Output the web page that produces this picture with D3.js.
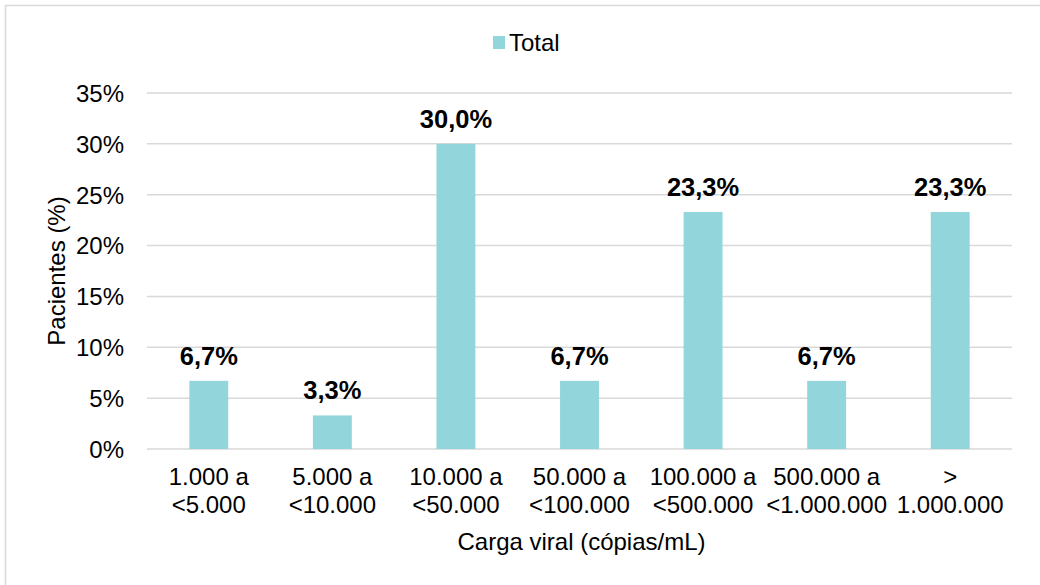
<!DOCTYPE html>
<html>
<head>
<meta charset="utf-8">
<script src="https://cdn.jsdelivr.net/npm/d3@7/dist/d3.min.js"></script>
<style>
  html, body { margin: 0; padding: 0; background: #fff; }
  svg { display: block; font-family: "Liberation Sans", Arial, sans-serif; }
</style>
</head>
<body>
<svg id="chart" width="1040" height="585"></svg>
<script>
// Viral load ranges (two-line labels) and share of patients in each
const categories = [
  ["1.000 a", "<5.000"],
  ["5.000 a", "<10.000"],
  ["10.000 a", "<50.000"],
  ["50.000 a", "<100.000"],
  ["100.000 a", "<500.000"],
  ["500.000 a", "<1.000.000"],
  [">", "1.000.000"]
];
const totalValues = [6.7, 3.3, 30.0, 6.7, 23.3, 6.7, 23.3];
const yTicks = [0, 5, 10, 15, 20, 25, 30, 35];
const seriesName = "Total";

const svg = d3.select("#chart");
const W = 1040, H = 585;
const plot = { left: 147, right: 1012, top: 93, bottom: 449 };
const barColor = "#92d6dc";
const gridColor = "#d9d9d9";
const fontSize = 24;
const labelSize = 25.5;

// Frame around the chart
svg.append("rect")
  .attr("x", 5.5).attr("y", 5.5)
  .attr("width", W + 10).attr("height", H + 10)
  .attr("fill", "#fff").attr("stroke", gridColor).attr("stroke-width", 1.5);

const x = d3.scaleBand()
  .domain(categories.map((d, i) => i))
  .range([plot.left, plot.right])
  .paddingInner(0.685).paddingOuter(0.3425);

const y = d3.scaleLinear().domain([0, 35]).range([plot.bottom, plot.top]);

// Horizontal gridlines
svg.append("g").selectAll("line").data(yTicks).join("line")
  .attr("x1", plot.left).attr("x2", plot.right)
  .attr("y1", d => y(d)).attr("y2", d => y(d))
  .attr("stroke", gridColor).attr("stroke-width", 1.5);

// Y axis labels
const yAxis = d3.axisLeft(y).tickValues(yTicks).tickFormat(d => d + "%").tickSize(0).tickPadding(0);
const yg = svg.append("g").attr("transform", `translate(${plot.left - 23},0)`).call(yAxis);
yg.select(".domain").remove();
yg.selectAll("text")
  .attr("font-size", fontSize).attr("fill", "#000")
  .attr("font-family", "'Liberation Sans', Arial, sans-serif")
  .attr("dy", "0.35em");

// Bars
svg.append("g").selectAll("rect").data(totalValues).join("rect")
  .attr("x", (d, i) => x(i))
  .attr("width", x.bandwidth())
  .attr("y", d => y(d))
  .attr("height", d => y(0) - y(d))
  .attr("fill", barColor);

// Value labels
svg.append("g").selectAll("text").data(totalValues).join("text")
  .attr("x", (d, i) => x(i) + x.bandwidth() / 2)
  .attr("y", d => y(d) - 16)
  .attr("text-anchor", "middle")
  .attr("font-size", labelSize).attr("font-weight", "bold").attr("fill", "#000")
  .text(d => d.toFixed(1).replace(".", ",") + "%");

// X axis category labels (two lines each)
const xl = svg.append("g").selectAll("text").data(categories).join("text")
  .attr("x", (d, i) => x(i) + x.bandwidth() / 2)
  .attr("y", 485)
  .attr("text-anchor", "middle")
  .attr("font-size", fontSize).attr("fill", "#000");
xl.each(function(d) {
  const t = d3.select(this);
  const cx = t.attr("x");
  d.forEach((line, k) => {
    t.append("tspan").attr("x", cx).attr("dy", k === 0 ? 0 : 28).text(line);
  });
});

// Axis titles
svg.append("text")
  .attr("x", (plot.left + plot.right) / 2 + 2).attr("y", 550)
  .attr("text-anchor", "middle").attr("font-size", fontSize).attr("fill", "#000")
  .text("Carga viral (cópias/mL)");

svg.append("text")
  .attr("transform", `translate(65,${(plot.top + plot.bottom) / 2}) rotate(-90)`)
  .attr("text-anchor", "middle").attr("font-size", fontSize).attr("fill", "#000")
  .text("Pacientes (%)");

// Legend
const lg = svg.append("g").attr("transform", "translate(493,36)");
lg.append("rect").attr("width", 12).attr("height", 13).attr("fill", barColor);
lg.append("text").attr("x", 16).attr("y", 14.5)
  .attr("font-size", fontSize).attr("fill", "#000").text(seriesName);
</script>
</body>
</html>
